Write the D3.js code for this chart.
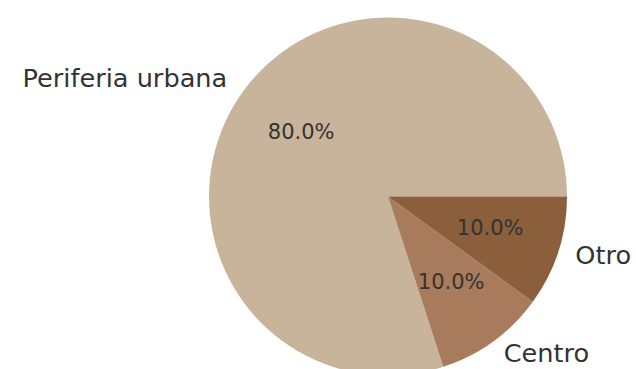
<!DOCTYPE html>
<html><head><meta charset="utf-8">
<script src="https://cdn.jsdelivr.net/npm/d3@7"></script>
<style>body{margin:0;background:#fff}svg{display:block}</style>
</head><body>
<svg id="c" width="636" height="369"></svg>
<script>
const categories = ["Periferia urbana", "Centro", "Otro"];
const values = [80, 10, 10];
const colors = ["#c8b39b", "#a77b5c", "#8b5e3c"];

const svg = d3.select("#c");
const cx = 388, cy = 196.5, r = 179;
const g = svg.append("g").attr("transform", `translate(${cx},${cy})`);

// matplotlib style: start at east (0 rad), counterclockwise
const pie = d3.pie().sort(null).value(d => d)
  .startAngle(Math.PI / 2).endAngle(Math.PI / 2 - 2 * Math.PI);
const arcs = pie(values);
const arc = d3.arc().innerRadius(0).outerRadius(r);
const total = d3.sum(values);

g.selectAll("path.slice").data(arcs).enter().append("path")
  .attr("class", "slice")
  .attr("d", arc)
  .attr("fill", (d, i) => colors[i]);

function pos(d, k) {
  const a = (d.startAngle + d.endAngle) / 2; // d3 angle: 0 = up, clockwise
  return [k * r * Math.sin(a), -k * r * Math.cos(a)];
}

g.selectAll("text.lbl").data(arcs).enter().append("text")
  .attr("class", "lbl")
  .attr("x", d => pos(d, 1.1)[0] + (pos(d, 1.1)[0] < 0 ? -1.5 : 0))
  .attr("y", d => pos(d, 1.1)[1])
  .attr("dy", "0.26em")
  .attr("text-anchor", d => pos(d, 1.1)[0] < 0 ? "end" : "start")
  .attr("font-family", "DejaVu Sans")
  .attr("font-size", 25.6)
  .attr("fill", "#333333")
  .text((d, i) => categories[i]);

g.selectAll("text.pct").data(arcs).enter().append("text")
  .attr("class", "pct")
  .attr("x", d => pos(d, 0.6)[0])
  .attr("y", d => pos(d, 0.6)[1])
  .attr("dy", "0.26em")
  .attr("text-anchor", "middle")
  .attr("font-family", "DejaVu Sans")
  .attr("font-size", 21)
  .attr("fill", "#333333")
  .text(d => (d.value / total * 100).toFixed(1) + "%");
</script>
</body></html>
